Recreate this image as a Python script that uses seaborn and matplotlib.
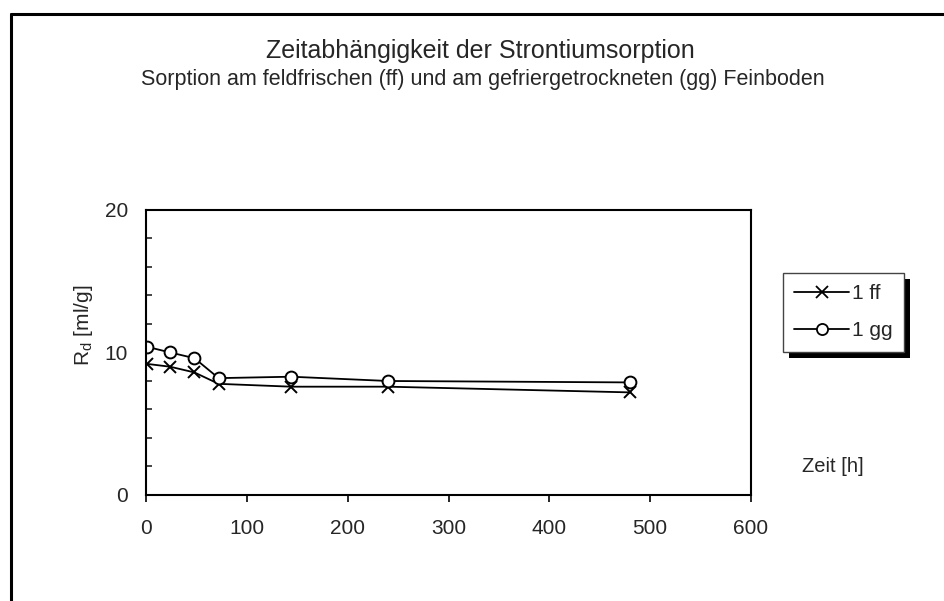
import pandas as pd
import matplotlib.pyplot as plt
import seaborn as sns
from matplotlib.lines import Line2D
from matplotlib.ticker import MultipleLocator
from matplotlib import patheffects

# Zeit [h] und Rd [ml/g]
zeit = [1, 24, 48, 72, 144, 240, 480]
rd_ff = [9.2, 9.0, 8.6, 7.8, 7.6, 7.6, 7.2]
rd_gg = [10.4, 10.0, 9.6, 8.2, 8.3, 8.0, 7.9]
serien = ["1 ff", "1 gg"]
marker = {"1 ff": "x", "1 gg": "o"}

df = pd.concat([
    pd.DataFrame({"Zeit": zeit, "Rd": rd_ff, "Serie": serien[0]}),
    pd.DataFrame({"Zeit": zeit, "Rd": rd_gg, "Serie": serien[1]}),
])

sns.set_style("ticks")
plt.rcParams["font.family"] = ["Liberation Sans", "DejaVu Sans"]

fig = plt.figure(figsize=(9.44, 6.01), dpi=100)
ax = fig.add_axes([0.1547, 0.1764, 0.6409, 0.4742])

for s in serien:
    sns.lineplot(data=df[df["Serie"] == s], x="Zeit", y="Rd", ax=ax, color="black",
                 marker=marker[s], markersize=8.5, markerfacecolor="white",
                 markeredgecolor="black", markeredgewidth=1.4, linewidth=1.3,
                 label=s)

ax.set_xlim(0, 600)
ax.set_ylim(0, 20)
ax.set_xticks(range(0, 601, 100))
ax.set_yticks([0, 10, 20])
ax.yaxis.set_minor_locator(MultipleLocator(2))
ax.tick_params(axis="x", direction="out", length=5, width=1.4, labelsize=15, pad=12)
ax.tick_params(axis="y", which="major", length=0, labelsize=15, pad=13)
ax.tick_params(axis="y", which="minor", direction="in", length=4, width=1.2)
for sp in ax.spines.values():
    sp.set_visible(True)
    sp.set_linewidth(1.5)
    sp.set_color("black")

ax.set_xlabel("")
ax.set_ylabel(r"R$_\mathregular{d}$ [ml/g]", fontsize=15)
ax.yaxis.set_label_coords(-0.085, 0.595)
fig.text(833 / 944, 1 - 467 / 601, "Zeit [h]", fontsize=14.5, ha="center", va="center")

fig.text(480 / 944, 1 - 51 / 601, "Zeitabhängigkeit der Strontiumsorption",
         fontsize=18, ha="center", va="center")
fig.text(483 / 944, 1 - 80 / 601,
         "Sorption am feldfrischen (ff) und am gefriergetrockneten (gg) Feinboden",
         fontsize=15.5, ha="center", va="center")

ax.get_legend().remove()
handles = [Line2D([], [], color="black", marker=marker[s], markersize=8,
                  markerfacecolor="white", markeredgewidth=1.3, linewidth=1.3)
           for s in serien]
leg = fig.legend(handles, serien, loc="upper left",
                 bbox_to_anchor=(783 / 944, 1 - 273 / 601), borderaxespad=0,
                 fontsize=15, handlelength=2.6, handletextpad=0.15,
                 borderpad=0.55, labelspacing=0.85, fancybox=False, shadow=False)
frame = leg.get_frame()
frame.set_edgecolor("#444444")
frame.set_linewidth(1)
frame.set_alpha(1)
frame.set_path_effects([
    patheffects.SimplePatchShadow(offset=(4.5, -4.5), shadow_rgbFace="black", alpha=1),
    patheffects.Normal(),
])

# Rahmen um das Diagramm
fig.add_artist(Line2D([11 / 944, 11 / 944], [0, 1 - 14 / 601], color="black", linewidth=2.2))
fig.add_artist(Line2D([11 / 944, 1], [1 - 14 / 601, 1 - 14 / 601], color="black", linewidth=2.2))

fig.savefig("out.png", dpi=100)
